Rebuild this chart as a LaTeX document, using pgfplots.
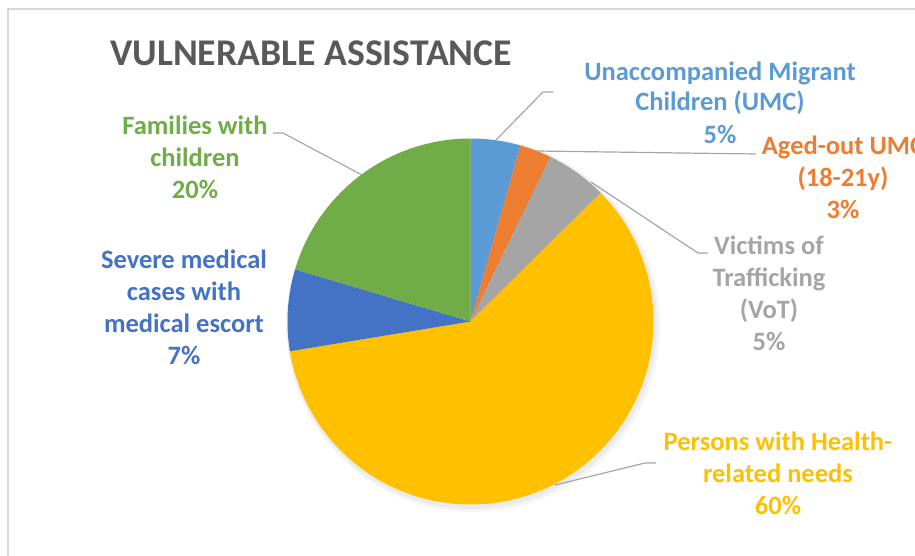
\documentclass[border=0pt]{standalone}
\usepackage{pgfplots}
\pgfplotsset{compat=1.18}
\usepackage{fontspec}
\setmainfont{Carlito}
\definecolor{cUMC}{HTML}{5B9BD5}
\definecolor{cAged}{HTML}{ED7D31}
\definecolor{cVoT}{HTML}{A5A5A5}
\definecolor{cHealth}{HTML}{FFC000}
\definecolor{cSevere}{HTML}{4472C4}
\definecolor{cFam}{HTML}{70AD47}
\definecolor{cTitle}{HTML}{595959}
\definecolor{cLine}{HTML}{A6A6A6}
\definecolor{cFrame}{HTML}{D9D9D9}
% slice: start (percent), value (percent), colour
\newcommand{\slice}[3]{\fill[#3] (axis cs:470.5,321.5) -- ++({90-3.6*(#1)}:183bp)
  arc[start angle={90-3.6*(#1)}, end angle={90-3.6*(#1+#2)}, radius=183bp] -- cycle;}
\newcommand{\lbl}{\fontsize{26.5bp}{32bp}\selectfont\bfseries}
\begin{document}
\begin{tikzpicture}
\useasboundingbox (0,0) rectangle (915bp,556bp);
\clip (0,0) rectangle (915bp,556bp);
\begin{axis}[hide axis, x=1bp, y=1bp, xmin=0, xmax=915, ymin=0, ymax=556,
  y dir=reverse, clip=false, anchor=south west, at={(0,0)}]
% frame
\draw[cFrame, line width=1.5bp] (axis cs:8,570) -- (axis cs:8,9) -- (axis cs:930,9);
% title
\node[anchor=base west, text=cTitle, font=\fontsize{37.7bp}{44bp}\selectfont\bfseries, inner sep=0pt]
  at (axis cs:110,65) {VULNERABLE ASSISTANCE};
% soft shadow
\fill[black, opacity=0.04] (axis cs:473,325) circle[radius=187bp];
\fill[black, opacity=0.04] (axis cs:472,324) circle[radius=185bp];
% pie slices (percent values)
\slice{0}{4.4}{cUMC}
\slice{4.4}{2.8}{cAged}
\slice{7.2}{5.4}{cVoT}
\slice{12.6}{59.8}{cHealth}
\slice{72.4}{7.2}{cSevere}
\slice{79.6}{20.4}{cFam}
% leader lines
\begin{scope}[cLine, line width=1.2bp]
\draw (axis cs:496,140) -- (axis cs:543,92) -- (axis cs:553,92);
\draw (axis cs:537,151) -- (axis cs:756,154);
\draw (axis cs:591,182) -- (axis cs:698,253) -- (axis cs:708,253);
\draw (axis cs:555,485) -- (axis cs:645,463) -- (axis cs:656,463);
\draw (axis cs:362,175) -- (axis cs:283,133) -- (axis cs:273,133);
\end{scope}
% labels
\begin{scope}[every node/.style={anchor=base, inner sep=0pt, font=\lbl}]
\node[text=cUMC] at (axis cs:720,80) {Unaccompanied Migrant};
\node[text=cUMC] at (axis cs:720,110) {Children (UMC)};
\node[text=cUMC] at (axis cs:720,143) {5\%};
\node[text=cAged] at (axis cs:843,154) {Aged-out UMC};
\node[text=cAged] at (axis cs:843,186) {(18-21y)};
\node[text=cAged] at (axis cs:843,218) {3\%};
\node[text=cVoT] at (axis cs:769,254) {Victims of};
\node[text=cVoT] at (axis cs:769,286) {Trafficking};
\node[text=cVoT] at (axis cs:769,318) {(VoT)};
\node[text=cVoT] at (axis cs:769,350) {5\%};
\node[text=cHealth] at (axis cs:778,450) {Persons with Health-};
\node[text=cHealth] at (axis cs:778,482) {related needs};
\node[text=cHealth] at (axis cs:778,514) {60\%};
\node[text=cFam] at (axis cs:195,134) {Families with};
\node[text=cFam] at (axis cs:195,166) {children};
\node[text=cFam] at (axis cs:195,198) {20\%};
\node[text=cSevere] at (axis cs:184,268) {Severe medical};
\node[text=cSevere] at (axis cs:184,300) {cases with};
\node[text=cSevere] at (axis cs:184,332) {medical escort};
\node[text=cSevere] at (axis cs:184,364) {7\%};
\end{scope}
\end{axis}
\end{tikzpicture}
\end{document}
